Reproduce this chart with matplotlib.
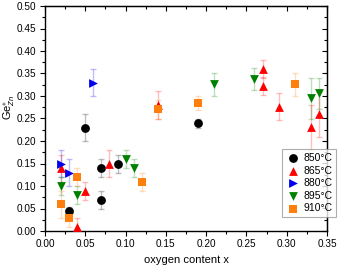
import matplotlib
matplotlib.use("Agg")
import matplotlib.pyplot as plt
from matplotlib.ticker import MultipleLocator

plt.rcParams['font.family'] = ['Liberation Sans', 'DejaVu Sans']
plt.rcParams['mathtext.fontset'] = 'custom'
plt.rcParams['mathtext.rm'] = 'Liberation Sans'
plt.rcParams['mathtext.it'] = 'Liberation Sans:italic'

labels = ['850°C', '865°C', '880°C', '895°C', '910°C']
colors = ['black', 'red', '#0000ee', 'green', '#ff7f0e']
markers = ['o', '^', '>', 'v', 's']

x850 = [0.03, 0.05, 0.07, 0.07, 0.09, 0.19]
y850 = [0.044, 0.23, 0.14, 0.07, 0.15, 0.24]
e850 = [0.01, 0.03, 0.02, 0.02, 0.02, 0.01]

x865 = [0.02, 0.04, 0.05, 0.08, 0.14, 0.27, 0.27, 0.29, 0.33, 0.34]
y865 = [0.14, 0.01, 0.09, 0.15, 0.28, 0.36, 0.323, 0.276, 0.231, 0.26]
e865 = [0.03, 0.02, 0.02, 0.03, 0.03, 0.02, 0.02, 0.03, 0.05, 0.05]

x880 = [0.02, 0.03, 0.06]
y880 = [0.15, 0.13, 0.33]
e880 = [0.03, 0.03, 0.03]

x895 = [0.02, 0.04, 0.10, 0.11, 0.21, 0.26, 0.33, 0.34]
y895 = [0.10, 0.08, 0.16, 0.14, 0.326, 0.338, 0.295, 0.306]
e895 = [0.02, 0.02, 0.02, 0.02, 0.025, 0.025, 0.045, 0.035]

x910 = [0.02, 0.03, 0.04, 0.12, 0.14, 0.19, 0.31]
y910 = [0.06, 0.03, 0.12, 0.11, 0.27, 0.284, 0.326]
e910 = [0.03, 0.02, 0.02, 0.02, 0.02, 0.015, 0.025]

series = [(x850, y850, e850), (x865, y865, e865), (x880, y880, e880),
          (x895, y895, e895), (x910, y910, e910)]

fig = plt.figure(figsize=(3.45, 2.7), dpi=100)
ax = fig.add_axes([45/345, 1-231/270, 282/345, 225/270])

handles = []
for (xs, ys, es), c, m, lab in zip(series, colors, markers, labels):
    ax.errorbar(xs, ys, yerr=es, fmt='none', ecolor=c, alpha=0.25,
                elinewidth=1, capsize=2, capthick=1, zorder=2)
    h = ax.scatter(xs, ys, marker=m, color=c, s=40, zorder=3,
                   linewidths=0, label=lab)
    handles.append(h)

ax.set_xlim(0, 0.35)
ax.set_ylim(0, 0.5)
ax.xaxis.set_major_locator(MultipleLocator(0.05))
ax.xaxis.set_minor_locator(MultipleLocator(0.025))
ax.yaxis.set_major_locator(MultipleLocator(0.05))
ax.yaxis.set_minor_locator(MultipleLocator(0.025))
ax.tick_params(axis='both', which='both', labelsize=7.2, direction='out', pad=2.5)
ax.tick_params(which='major', length=3.5, width=0.8)
ax.tick_params(which='minor', length=2, width=0.8)
ax.xaxis.set_major_formatter(plt.FormatStrFormatter('%.2f'))
ax.yaxis.set_major_formatter(plt.FormatStrFormatter('%.2f'))

axt = ax.secondary_xaxis('top')
axt.xaxis.set_major_locator(MultipleLocator(0.05))
axt.xaxis.set_minor_locator(MultipleLocator(0.025))
axt.tick_params(which='both', direction='in', labeltop=False)
axt.tick_params(which='major', length=3.5, width=0.8)
axt.tick_params(which='minor', length=2, width=0.8)
axr = ax.secondary_yaxis('right')
axr.yaxis.set_major_locator(MultipleLocator(0.05))
axr.yaxis.set_minor_locator(MultipleLocator(0.025))
axr.tick_params(which='both', direction='in', labelright=False)
axr.tick_params(which='major', length=3.5, width=0.8)
axr.tick_params(which='minor', length=2, width=0.8)

for sp in ax.spines.values():
    sp.set_linewidth(1.0)

ax.set_xlabel('oxygen content x', fontsize=8)
ax.set_ylabel(r'Ge$^{\ast}_{Zn}$', fontsize=8)
ax.yaxis.set_label_coords(-0.1, 0.55)

leg = ax.legend(handles=handles, loc='lower left', bbox_to_anchor=(0.84, 0.062),
                fontsize=7.5, frameon=True, fancybox=False, edgecolor='#999999',
                handletextpad=0.3, borderpad=0.35, labelspacing=0.25,
                handlelength=1.4, borderaxespad=0)
leg.get_frame().set_linewidth(0.8)
leg.set_zorder(5)

fig.savefig('out.png', dpi=100)
